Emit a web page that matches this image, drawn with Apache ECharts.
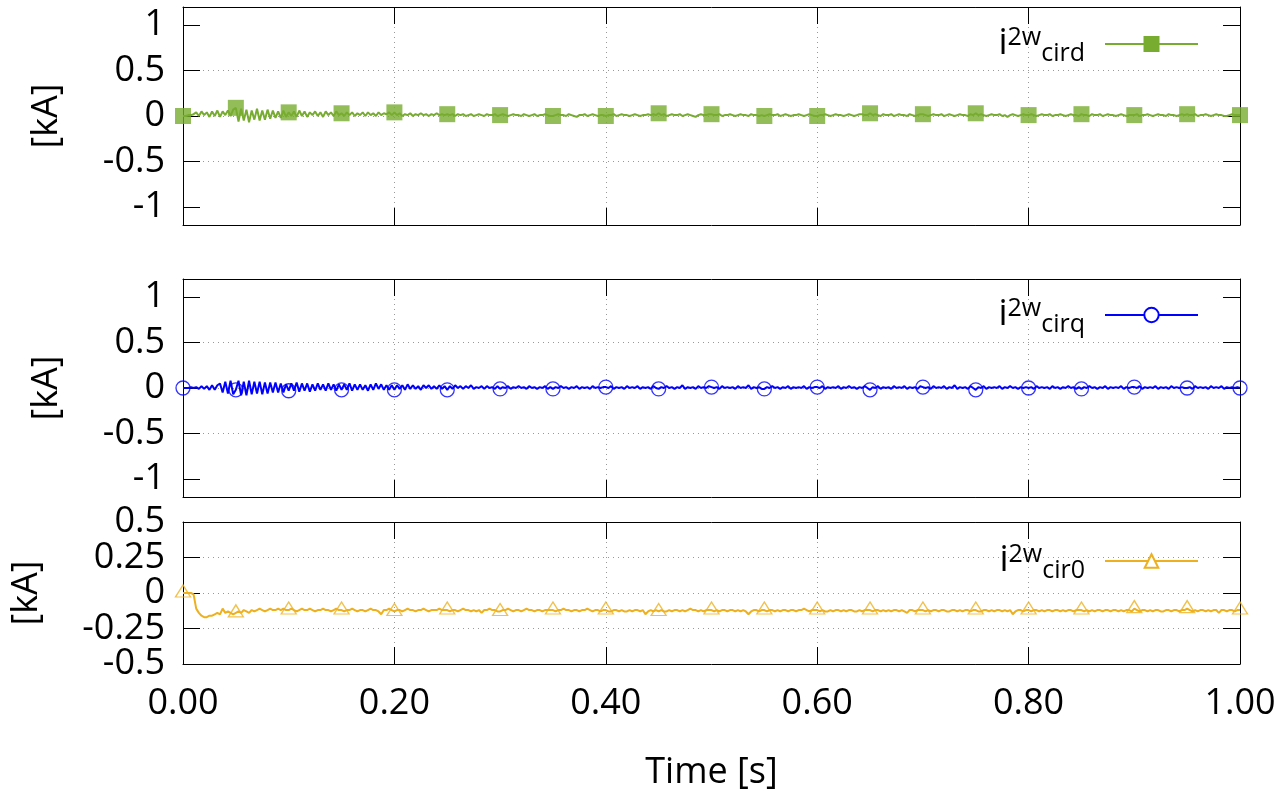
<!DOCTYPE html>
<html><head><meta charset="utf-8">
<script src="https://cdn.jsdelivr.net/npm/echarts@6/dist/echarts.min.js"></script>
<style>html,body{margin:0;padding:0;background:#fff}#c{width:1285px;height:796px}</style>
</head><body><div id="c"></div>
<script>
// ---- data ----
const timeStep = 0.0025;      // s between samples
const markerEvery = 20;       // one marker every 0.05 s
const xTickLabels = ['0.00','0.20','0.40','0.60','0.80','1.00'];
const yTicksDQ = [-1, -0.5, 0, 0.5, 1];
const yTicks0 = [-0.5, -0.25, 0, 0.25, 0.5];
const seriesNames = ['cird', 'cirq', 'cir0'];
// values in units of 0.01 kA, one row per 0.05 s
const cird = [
0,0,1,1,2,4,0,5,1,4,-1,5,0,6,-1,5,1,6,0,7,
9,-6,8,-5,7,-7,6,-4,8,-5,6,-4,7,-3,6,-2,5,-2,6,-1,
4,0,5,-1,6,0,5,-1,4,1,5,0,4,-1,5,1,4,0,5,1,
3,0,4,1,4,0,3,1,4,0,4,1,3,0,4,1,3,2,4,1,
4,1,3,0,2,1,3,0,2,1,3,1,2,0,2,1,3,1,2,1,
2,1,2,0,2,1,2,0,1,2,0,1,2,1,0,2,1,1,2,0,
1,2,1,0,1,2,1,1,0,2,1,0,1,2,0,1,1,2,1,0,
0,1,2,1,1,0,2,1,0,-1,1,1,2,0,1,2,1,0,1,1,
0,1,1,2,0,1,2,1,1,0,1,2,1,0,1,1,2,1,2,1,
3,1,2,0,1,2,1,1,2,0,1,2,1,0,-1,1,2,1,1,2,
2,1,1,2,0,1,1,2,1,0,1,2,1,1,0,2,1,1,0,1,
0,1,2,1,1,2,0,1,2,1,0,1,1,2,1,0,1,2,1,0,
0,1,1,2,1,0,1,2,1,1,0,1,2,1,0,1,2,2,1,1,
3,1,2,1,0,2,1,1,2,0,1,2,1,1,0,2,1,0,1,2,
2,1,0,1,2,1,1,2,0,1,2,1,0,1,2,1,1,0,2,1,
3,1,2,1,0,1,2,1,1,2,0,1,-1,1,2,1,0,1,2,1,
1,2,1,0,1,2,1,1,2,0,1,1,2,1,0,1,2,1,1,0,
2,1,1,0,2,1,1,2,0,1,2,1,1,0,1,2,1,0,1,1,
1,2,0,1,1,2,1,0,1,2,1,1,0,2,1,1,0,1,2,1,
2,1,1,2,0,1,1,2,1,0,1,2,1,1,0,0,1,2,1,1,
1];
const cirq = [
0,0,0,1,0,1,-1,2,-1,2,-2,3,-2,3,5,-5,7,-6,8,-7,
-2,8,-8,7,-8,8,-7,7,-6,7,-7,6,-6,6,-5,6,-5,5,-5,4,
-3,5,-3,6,-4,5,-3,5,-4,4,-3,5,-2,4,-3,5,-2,4,-3,4,
-2,4,-2,5,-3,4,-2,4,-2,3,-3,4,-2,5,-1,4,-2,3,-2,3,
-2,3,-1,3,-2,4,-1,3,-1,2,-2,3,0,3,-1,2,-1,3,-1,2,
-2,2,-1,3,0,2,-1,2,0,3,-1,1,0,2,-1,2,0,1,-1,2,
-1,1,0,2,-1,1,0,2,0,1,-1,2,0,1,-1,1,0,2,-1,1,
-1,1,0,2,0,1,-1,1,0,2,-1,1,0,1,-1,2,0,1,0,1,
1,0,2,-1,1,0,1,-1,2,0,1,0,2,-1,1,0,1,-1,2,0,
-1,1,0,2,0,1,-1,1,0,3,-1,1,0,1,-1,2,0,1,0,2,
1,0,1,-1,2,0,1,0,1,-1,2,0,1,0,3,-1,1,0,1,-1,
-1,1,0,2,0,1,-1,1,0,2,-1,1,0,1,0,2,-1,1,0,1,
1,0,2,-1,1,0,1,0,2,-1,1,0,2,0,1,-1,1,0,2,0,
-2,1,0,2,-1,1,0,1,-1,2,0,1,0,2,-1,1,0,1,-1,2,
1,0,1,-1,2,0,1,0,2,-1,1,0,3,-1,1,0,1,-1,2,0,
-2,1,0,2,-1,1,0,1,0,2,-1,1,0,2,0,1,-1,1,0,1,
0,1,-1,2,0,1,0,1,-1,2,0,1,-1,1,0,2,0,1,-1,1,
-1,1,0,2,0,1,-1,1,0,2,-1,1,0,1,0,2,-1,1,0,1,
1,0,2,-1,1,0,1,0,2,-1,1,0,1,-1,2,0,1,0,1,0,
0,1,-1,2,0,1,0,1,-1,2,0,1,0,2,-1,1,0,1,0,1,
0];
const cir0 = [
0,0,0,0,-1,-11,-14,-16,-17,-17,-16,-16,-15,-14,-15,-11,-14,-13,-14,-15,
-14,-13,-14,-12,-13,-14,-12,-13,-12,-11,-12,-13,-12,-11,-12,-12,-11,-12,-11,-12,
-12,-11,-12,-13,-12,-11,-12,-12,-11,-12,-13,-12,-12,-11,-12,-12,-13,-12,-11,-12,
-12,-13,-12,-12,-11,-12,-13,-12,-12,-13,-12,-11,-12,-12,-13,-15,-12,-12,-11,-12,
-13,-12,-12,-13,-12,-11,-12,-12,-13,-12,-12,-11,-12,-13,-12,-12,-12,-11,-12,-12,
-12,-13,-12,-12,-13,-12,-11,-12,-12,-13,-12,-13,-12,-14,-12,-12,-11,-12,-12,-13,
-13,-12,-12,-11,-12,-13,-12,-12,-13,-12,-11,-12,-12,-13,-12,-12,-13,-12,-12,-12,
-12,-13,-12,-12,-11,-12,-12,-13,-12,-12,-13,-12,-12,-11,-12,-13,-12,-12,-13,-12,
-12,-13,-13,-12,-12,-13,-12,-13,-13,-12,-13,-12,-12,-13,-12,-15,-13,-12,-13,-12,
-13,-12,-13,-13,-12,-13,-12,-12,-13,-12,-13,-12,-11,-12,-12,-13,-12,-13,-12,-12,
-12,-13,-12,-13,-12,-12,-13,-12,-12,-13,-12,-13,-12,-13,-15,-13,-12,-12,-13,-12,
-12,-13,-12,-12,-13,-12,-13,-12,-12,-13,-12,-12,-13,-12,-12,-11,-12,-13,-12,-12,
-12,-13,-12,-13,-13,-12,-13,-12,-12,-13,-12,-13,-12,-12,-13,-13,-12,-13,-12,-12,
-12,-13,-12,-12,-13,-12,-13,-12,-13,-12,-12,-13,-12,-13,-14,-12,-12,-13,-12,-12,
-12,-13,-12,-13,-12,-12,-13,-12,-12,-13,-13,-12,-12,-13,-12,-13,-12,-12,-13,-12,
-12,-13,-13,-12,-12,-13,-12,-13,-12,-12,-13,-12,-13,-12,-15,-13,-12,-12,-13,-12,
-12,-13,-12,-12,-13,-12,-13,-12,-12,-13,-12,-12,-13,-12,-13,-12,-12,-13,-12,-12,
-12,-13,-12,-13,-12,-13,-12,-12,-13,-12,-12,-13,-12,-12,-13,-12,-13,-12,-12,-13,
-11,-12,-13,-12,-12,-13,-12,-13,-12,-12,-13,-13,-12,-12,-13,-12,-12,-13,-12,-12,
-11,-12,-13,-12,-13,-12,-12,-13,-12,-13,-12,-12,-14,-12,-12,-13,-12,-12,-13,-12,
-12];

// ---- build ----
const F = 'Open Sans';
const FS = 36;
const TICK = 17;
const GREEN = '#77AC30', BLUE = '#0000FF', ORANGE = '#EDB120';
const toPairs = arr => arr.map((v, i) => [+(i * timeStep).toFixed(4), v / 100]);
const pick = pairs => pairs.filter((_, i) => i % markerEvery === 0);
const dCird = toPairs(cird), dCirq = toPairs(cirq), dCir0 = toPairs(cir0);

const grids = [
  {left: 183, right: 45, top: 7, height: 218},
  {left: 183, right: 45, top: 279, height: 218},
  {left: 183, right: 45, top: 522, height: 142}
];
const black = {color: '#000', width: 1};
const dotted = {color: '#999', width: 1, type: [1, 4]};
const labelFont = {fontFamily: F, fontSize: FS, color: '#000'};

const xAxis = [], yAxis = [], extraY = [];
grids.forEach((g, gi) => {
  const last = gi === 2;
  xAxis.push({
    type: 'value', gridIndex: gi, min: 0, max: 1, interval: 0.2, position: 'bottom',
    axisLine: {show: true, onZero: false, lineStyle: black},
    axisTick: {show: true, inside: true, length: TICK, lineStyle: black},
    axisLabel: Object.assign({show: last, margin: 22,
      formatter: v => xTickLabels[Math.round(v / 0.2)] ?? ''}, labelFont),
    splitLine: {show: true, showMinLine: false, showMaxLine: false, lineStyle: dotted},
    name: last ? 'Time [s]' : '', nameLocation: 'middle', nameGap: 91,
    nameTextStyle: labelFont
  });
  xAxis.push({
    type: 'value', gridIndex: gi, min: 0, max: 1, interval: 0.2, position: 'top',
    axisLine: {show: true, onZero: false, lineStyle: black},
    axisTick: {show: true, inside: true, length: TICK, lineStyle: black},
    axisLabel: {show: false}, splitLine: {show: false}
  });
  const ticks = last ? yTicks0 : yTicksDQ;
  // bottom panel: labels split over two overlaid left axes so none is auto-hidden
  const mainLabels = last ? ticks.filter((_, i) => i % 2 === 0) : ticks;
  const yr = last ? {min: -0.5, max: 0.5, interval: 0.25} : {min: -1.2, max: 1.2, splitNumber: 5};
  yAxis.push(Object.assign({
    type: 'value', gridIndex: gi, position: 'left',
    axisLine: {show: true, onZero: false, lineStyle: black},
    axisTick: {show: true, inside: true, length: TICK, lineStyle: black, customValues: ticks},
    axisLabel: Object.assign({margin: 18, customValues: mainLabels,
      showMinLabel: true, showMaxLabel: true}, labelFont),
    splitLine: {show: true, showMinLine: false, showMaxLine: false, lineStyle: dotted},
    name: '[kA]', nameLocation: 'middle', nameGap: last ? 138 : 118, nameRotate: 90,
    nameTextStyle: labelFont
  }, yr));
  yAxis.push(Object.assign({
    type: 'value', gridIndex: gi, position: 'right',
    axisLine: {show: true, onZero: false, lineStyle: black},
    axisTick: {show: true, inside: true, length: TICK, lineStyle: black, customValues: ticks},
    axisLabel: {show: false}, splitLine: {show: false}
  }, yr));
  if (last) {
    extraY.push(Object.assign({
      type: 'value', gridIndex: gi, position: 'left', offset: 0,
      axisLine: {show: false, onZero: false}, axisTick: {show: false},
      axisLabel: Object.assign({margin: 18, customValues: ticks.filter((_, i) => i % 2 === 1),
        showMinLabel: true, showMaxLabel: true}, labelFont),
      splitLine: {show: false}
    }, yr));
  }
});
yAxis.push(...extraY);

function lineSeries(name, data, axis, color, symbol) {
  return {type: 'line', name, data, xAxisIndex: axis, yAxisIndex: axis, symbol,
    showSymbol: false, lineStyle: {color, width: 2}, itemStyle: {color},
    silent: true, z: 2};
}
const series = [
  lineSeries(seriesNames[0], dCird, 0, GREEN, 'rect'),
  {type: 'scatter', data: pick(dCird), xAxisIndex: 0, yAxisIndex: 0, symbol: 'rect',
   symbolSize: 16, itemStyle: {color: GREEN}, silent: true, z: 3},
  lineSeries(seriesNames[1], dCirq, 2, BLUE, 'emptyCircle'),
  {type: 'scatter', data: pick(dCirq), xAxisIndex: 2, yAxisIndex: 2, symbol: 'circle',
   symbolSize: 14, itemStyle: {color: 'rgba(0,0,0,0)', borderColor: BLUE, borderWidth: 1.3}, silent: true, z: 3},
  lineSeries(seriesNames[2], dCir0, 4, ORANGE, 'emptyTriangle'),
  {type: 'scatter', data: pick(dCir0), xAxisIndex: 4, yAxisIndex: 4, symbol: 'triangle',
   symbolSize: [15, 12], symbolOffset: [0, -2],
   itemStyle: {color: 'rgba(0,0,0,0)', borderColor: ORANGE, borderWidth: 1.3}, silent: true, z: 3}
];

const rich = {
  i: {fontFamily: F, fontSize: FS, color: '#000', verticalAlign: 'middle'},
  sup: {fontFamily: F, fontSize: 25, color: '#000', padding: [0, 0, 13, 0], verticalAlign: 'middle'},
  sub: {fontFamily: F, fontSize: 25, color: '#000', padding: [19, 15, 0, 0], verticalAlign: 'middle'}
};
function legend(name, sub, top, itemHeight) {
  return {data: [name], right: 86, top, orient: 'vertical', align: 'right', padding: 0,
    itemWidth: 93, itemHeight, selectedMode: false,
    formatter: () => '{i|i}{sup|2w}{sub|' + sub + '}',
    textStyle: {rich}};
}
const legends = [
  legend(seriesNames[0], 'cird', 25, 20),
  legend(seriesNames[1], 'cirq', 296, 18),
  legend(seriesNames[2], 'cir0', 542, 17)
];

const chart = echarts.init(document.getElementById('c'));
chart.setOption({animation: false, backgroundColor: '#fff', grid: grids, xAxis, yAxis, series, legend: legends});
</script></body></html>
